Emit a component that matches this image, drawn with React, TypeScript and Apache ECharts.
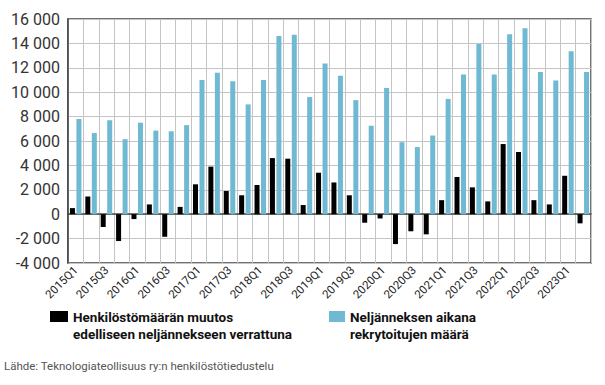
import React, { useEffect, useRef } from "react";
import * as echarts from "echarts";

const categories = [
  "2015Q1","2015Q2","2015Q3","2015Q4",
  "2016Q1","2016Q2","2016Q3","2016Q4",
  "2017Q1","2017Q2","2017Q3","2017Q4",
  "2018Q1","2018Q2","2018Q3","2018Q4",
  "2019Q1","2019Q2","2019Q3","2019Q4",
  "2020Q1","2020Q2","2020Q3","2020Q4",
  "2021Q1","2021Q2","2021Q3","2021Q4",
  "2022Q1","2022Q2","2022Q3","2022Q4",
  "2023Q1","2023Q2",
];

const staffChange = [
  500, 1450, -1050, -2200,
  -400, 800, -1850, 600,
  2450, 3900, 1900, 1550,
  2400, 4600, 4550, 750,
  3400, 2600, 1550, -700,
  -350, -2450, -1400, -1650,
  1150, 3050, 2200, 1050,
  5750, 5100, 1150, 800,
  3150, -750,
];

const recruited = [
  7800, 6650, 7700, 6150,
  7500, 6850, 6800, 7300,
  11000, 11600, 10900, 9000,
  11000, 14600, 14700, 9600,
  12350, 11350, 9350, 7250,
  10350, 5900, 5500, 6450,
  9450, 11450, 13950, 11450,
  14750, 15250, 11650, 10950,
  13350, 11650,
];

const seriesNames = [
  "Henkilöstömäärän muutos\nedelliseen neljännekseen verrattuna",
  "Neljänneksen aikana\nrekrytoitujen määrä",
];
const seriesColors = ["#000000", "#6fb9d2"];
const sourceText = "Lähde: Teknologiateollisuus ry:n henkilöstötiedustelu";

const FONT = "Roboto, 'DejaVu Sans', sans-serif";

export default function App() {
  const ref = useRef<HTMLDivElement>(null);
  useEffect(() => {
    if (!ref.current) return;
    const chart = echarts.init(ref.current, undefined, { renderer: "svg" });
    chart.setOption({
      animation: false,
      backgroundColor: "#ffffff",
      textStyle: { fontFamily: FONT },
      grid: {
        left: 68,
        right: 14,
        top: 19,
        bottom: 122,
        show: true,
        borderColor: "#444",
        borderWidth: 1.5,
      },
      xAxis: {
        type: "category",
        data: categories,
        axisLine: { show: true, lineStyle: { color: "#444", width: 1.5 } },
        axisTick: { show: false },
        splitLine: { show: true, interval: 0, lineStyle: { color: "#c4c4c4", width: 1 } },
        axisLabel: {
          interval: 1,
          rotate: 45,
          fontSize: 11.5,
          color: "#222",
          margin: 5,
          fontFamily: FONT,
        },
      },
      yAxis: {
        type: "value",
        min: -4000,
        max: 16000,
        interval: 2000,
        axisLine: { show: true, lineStyle: { color: "#444", width: 1.5 } },
        axisTick: { show: false },
        splitLine: { show: true, lineStyle: { color: "#c4c4c4", width: 1 } },
        axisLabel: {
          fontSize: 16,
          color: "#333",
          margin: 8,
          fontFamily: FONT,
          formatter: (v: number) => {
            const s = Math.abs(v).toString().replace(/\B(?=(\d{3})+(?!\d))/g, " ");
            return (v < 0 ? "-" : "") + s;
          },
        },
      },
      series: [
        {
          name: seriesNames[0],
          type: "bar",
          data: staffChange,
          barWidth: 5,
          barGap: "30%",
          itemStyle: { color: seriesColors[0] },
        },
        {
          name: seriesNames[1],
          type: "bar",
          data: recruited,
          barWidth: 5,
          itemStyle: { color: seriesColors[1] },
        },
      ],
      graphic: [
        { type: "rect", left: 50, top: 311, shape: { width: 18, height: 11 }, style: { fill: seriesColors[0] } },
        {
          type: "text", left: 73, top: 308,
          style: { text: seriesNames[0], font: `bold 13.5px ${FONT}`, fill: "#111", lineHeight: 17 },
        },
        { type: "rect", left: 329, top: 311, shape: { width: 16, height: 11 }, style: { fill: seriesColors[1] } },
        {
          type: "text", left: 350, top: 308,
          style: { text: seriesNames[1], font: `bold 13.5px ${FONT}`, fill: "#111", lineHeight: 17 },
        },
        {
          type: "text", left: 4, top: 360,
          style: { text: sourceText, font: `11.5px ${FONT}`, fill: "#555" },
        },
      ],
    });
    return () => chart.dispose();
  }, []);
  return <div ref={ref} style={{ width: 605, height: 385, position: "absolute", left: 0, top: 0 }} />;
}
